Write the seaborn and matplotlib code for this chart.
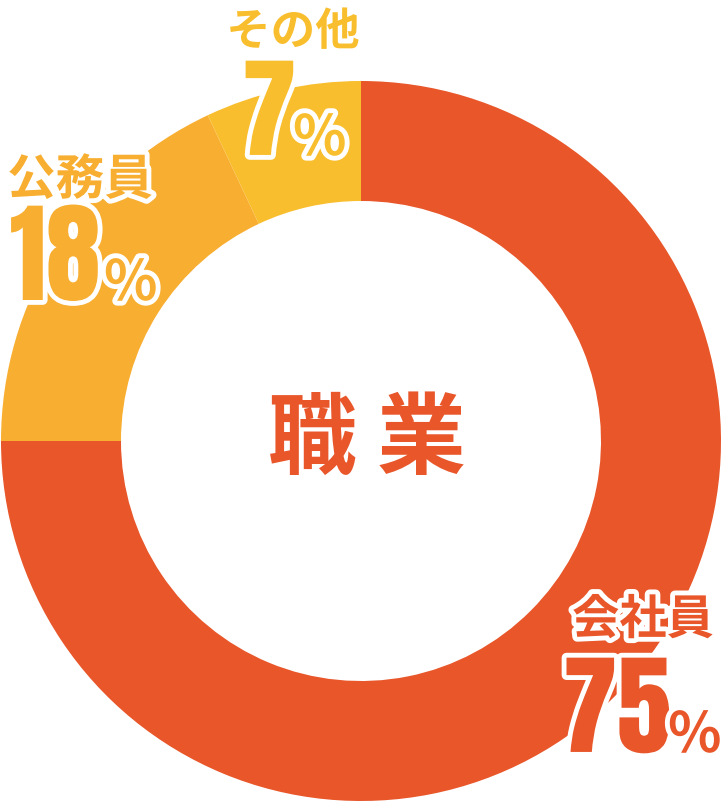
import matplotlib
matplotlib.use("Agg")
import matplotlib.pyplot as plt
import matplotlib.patheffects as pe
import seaborn as sns

# ---- data ----
categories = ["会社員", "公務員", "その他"]
values = [75, 18, 7]
pct_labels = ["75", "18", "7"]
center_title = "職 業"

sns.set_theme(style="white")
plt.rcParams["font.family"] = ["Noto Sans CJK JP", "DejaVu Sans"]

colors = ["#E8562A", "#F8AE30", "#F9BE2D"]

W, H = 721, 801
fig = plt.figure(figsize=(W / 100, H / 100), dpi=100)
ax = fig.add_axes([0, 0, 1, 1])

cx, cy, R, r = 361, H - 441, 360, 240
ax.pie(values, colors=colors, startangle=90, counterclock=False,
       center=(cx, cy), radius=R,
       wedgeprops=dict(width=R - r, linewidth=0, edgecolor="none"))
ax.set_xlim(0, W)
ax.set_ylim(0, H)
ax.set_aspect("equal")
ax.axis("off")

def Y(y):
    return H - y

stroke = [pe.withStroke(linewidth=7, foreground="white")]
cjk = ["Noto Sans CJK JP", "DejaVu Sans"]
num = ["Anton", "Oswald", "DejaVu Sans"]

# center title
ax.text(367, Y(441), center_title, ha="center", va="center", fontsize=64,
        fontweight="bold", color=colors[0], family=cjk)

# label layout: (name center x, name center y, name size, digits center x, baseline y, pct left x)
layout = {
    "会社員": (643, 620, 34, 617, 752, 668),
    "公務員": (80, 180, 35, 55, 300, 104),
    "その他": (293, 32, 32, 269, 155, 293),
}

for cat, pct, col in zip(categories, pct_labels, colors):
    nx, ny, ns, dx, by, px = layout[cat]
    ax.text(nx, Y(ny), cat, ha="center", va="center", fontsize=ns,
            fontweight="bold", color=col, family=cjk, path_effects=stroke)
    ax.text(dx, Y(by), pct, ha="center", va="baseline", fontsize=79,
            fontweight="normal", color=col, family=num, path_effects=stroke)
    ax.text(px, Y(by), "%", ha="left", va="baseline", fontsize=40,
            fontweight="bold", color=col, family=cjk, path_effects=stroke)

fig.savefig("out.png", dpi=100, facecolor="white")
